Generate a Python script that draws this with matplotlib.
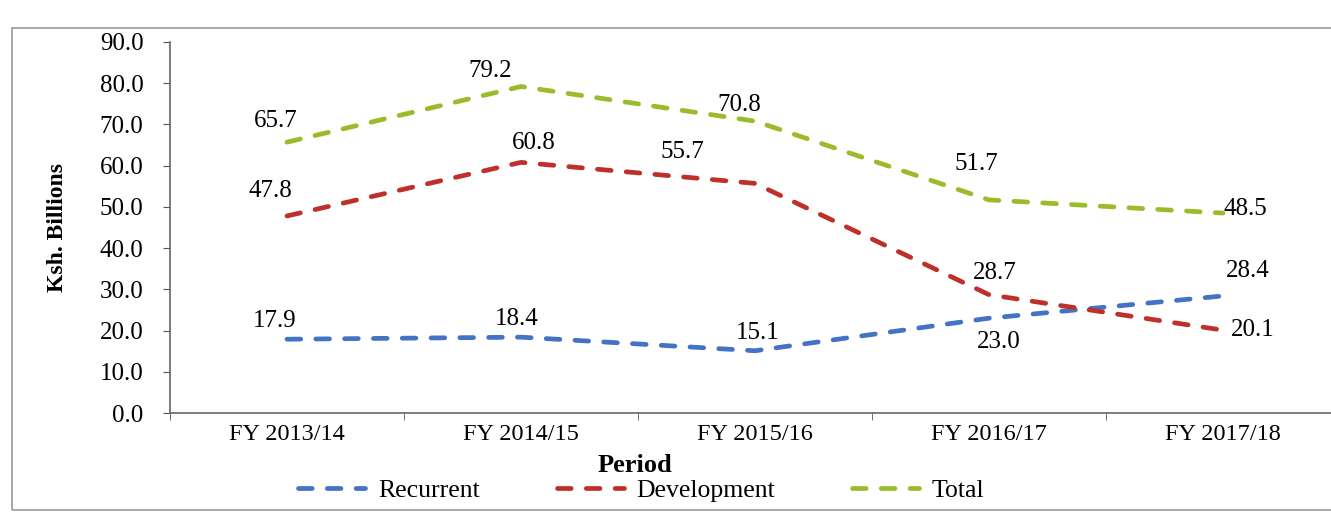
import numpy as np
import matplotlib.pyplot as plt
from matplotlib.patches import Rectangle

periods = ['FY 2013/14', 'FY 2014/15', 'FY 2015/16', 'FY 2016/17', 'FY 2017/18']
recurrent = [17.9, 18.4, 15.1, 23.0, 28.4]
development = [47.8, 60.8, 55.7, 28.7, 20.1]
total = [65.7, 79.2, 70.8, 51.7, 48.5]

plt.rcParams['font.family'] = ['Liberation Serif', 'DejaVu Serif']

fig = plt.figure(figsize=(13.31, 5.15), dpi=100)
ax = fig.add_axes([170/1331, 102/515, 1170/1331, 371/515])

x = np.arange(len(periods))
dash = (0, (2.9, 3.2))
kw = dict(linestyle=dash, linewidth=3.4, dash_capstyle='round')
ax.plot(x, recurrent, color='#4472C4', label='Recurrent', **kw)
ax.plot(x, development, color='#C0302A', label='Development', **kw)
ax.plot(x, total, color='#9BBB2A', label='Total', **kw)

# data labels: (dx, dy, ha, va) offsets in points
rec_off = [(-9, 5, 'center', 'bottom'), (-3, 5, 'center', 'bottom'), (2, 5, 'center', 'bottom'),
           (7, -9, 'center', 'top'), (2, 10, 'left', 'bottom')]
dev_off = [(-12, 10, 'center', 'bottom'), (9, 6, 'center', 'bottom'), (-52, 15, 'center', 'bottom'),
           (4, 8, 'center', 'bottom'), (6, 0, 'left', 'center')]
tot_off = [(-8, 7, 'center', 'bottom'), (-22, 3, 'center', 'bottom'), (-11, 4, 'center', 'bottom'),
           (-9, 18, 'center', 'bottom'), (0, 3, 'left', 'center')]
for vals, offs in [(recurrent, rec_off), (development, dev_off), (total, tot_off)]:
    for xi, v, (dx, dy, ha, va) in zip(x, vals, offs):
        ax.annotate('%.1f' % v, (xi, v), xytext=(dx, dy), textcoords='offset points',
                    ha=ha, va=va, fontsize=18)

ax.set_ylim(0, 90)
ax.set_yticks(np.arange(0, 91, 10))
ax.set_yticklabels(['%.1f' % t for t in np.arange(0, 91, 10)], fontsize=18)
ax.set_xlim(-0.5, 4.5)
ax.set_xticks(x)
ax.set_xticklabels(periods, fontsize=17.5)
ax.set_xticks(np.arange(-0.5, 5, 1), minor=True)
ax.tick_params(axis='x', which='major', length=0, pad=8)
ax.tick_params(axis='x', which='minor', length=5, direction='out', color='#555555')
ax.tick_params(axis='y', length=5, direction='out', color='#555555', pad=14)

for s in ['top', 'right']:
    ax.spines[s].set_visible(False)
for s in ['left', 'bottom']:
    ax.spines[s].set_color('#666666')
    ax.spines[s].set_linewidth(1.2)

ax.set_ylabel('Ksh. Billions', fontsize=17, fontweight='bold')
ax.yaxis.set_label_coords(-102/1170, 0.5)
ax.set_xlabel('Period', fontsize=19, fontweight='bold')
ax.xaxis.set_label_coords((635 - 170)/1170, -41/371)

ax.legend(loc='center', bbox_to_anchor=(0.403, -0.21), ncol=3, frameon=False,
          fontsize=18.5, handlelength=2.6, columnspacing=3.0, handletextpad=0.5,
          borderpad=0, borderaxespad=0)

fig.patches.append(Rectangle((12/1331, 5/515), 1.0, 482/515, transform=fig.transFigure,
                             fill=False, edgecolor='#999999', linewidth=1.2))

fig.savefig('out.png', dpi=100)
